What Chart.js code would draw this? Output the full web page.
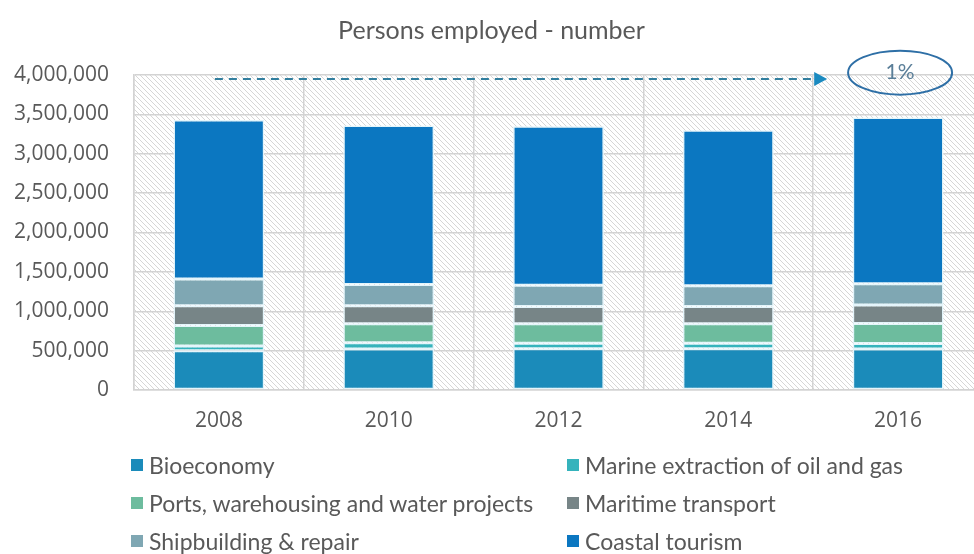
<!DOCTYPE html>
<html>
<head>
<meta charset="utf-8">
<script src="https://cdn.jsdelivr.net/npm/chart.js@4/dist/chart.umd.min.js"></script>
<style>
  html, body { margin: 0; padding: 0; background: #fff; overflow: hidden; }
  #wrap { position: relative; width: 974px; height: 554px; overflow: hidden; }
  #cv { position: absolute; left: 0; top: 0; }
  .lg { position: absolute; font-family: Lato, "Open Sans", sans-serif; font-size: 23px; color: #595959; white-space: nowrap; line-height: 26px; }
  .sw { position: absolute; width: 12px; height: 12px; }
</style>
</head>
<body>
<div id="wrap">
  <canvas id="cv" width="998" height="554" style="width:998px;height:554px"></canvas>
  <div id="legend"></div>
</div>
<script>
const categories = ['2008', '2010', '2012', '2014', '2016'];
const seriesNames = ['Bioeconomy', 'Marine extraction of oil and gas', 'Ports, warehousing and water projects', 'Maritime transport', 'Shipbuilding & repair', 'Coastal tourism'];
const bioeconomy   = [500000, 520000, 525000, 525000, 520000];
const marineOilGas = [60000, 80000, 70000, 70000, 70000];
const ports        = [260000, 240000, 245000, 245000, 255000];
const maritime     = [250000, 230000, 220000, 220000, 235000];
const shipbuilding = [340000, 270000, 270000, 265000, 270000];
const tourism      = [2020000, 2020000, 2020000, 1975000, 2110000];
const yTicks = [0, 500000, 1000000, 1500000, 2000000, 2500000, 3000000, 3500000, 4000000];
const changeLabel = '1%';
const colors = ['#1B8BBA', '#35B3BC', '#6DBC9E', '#778587', '#7FA7B3', '#0B77C1'];
const seriesValues = [bioeconomy, marineOilGas, ports, maritime, shipbuilding, tourism];

const TXT = '#595959';

function makeHatch() {
  const c = document.createElement('canvas');
  c.width = 5; c.height = 5;
  const g = c.getContext('2d');
  g.fillStyle = '#ffffff'; g.fillRect(0, 0, 5, 5);
  g.strokeStyle = '#d6d6d6'; g.lineWidth = 1;
  g.beginPath();
  g.moveTo(-1, -1); g.lineTo(6, 6);
  g.moveTo(-1, 4); g.lineTo(1, 6);
  g.moveTo(4, -1); g.lineTo(6, 1);
  g.stroke();
  return c;
}

const hatchPlugin = {
  id: 'hatch',
  beforeDraw(chart) {
    const { ctx, chartArea: a } = chart;
    ctx.save();
    ctx.fillStyle = ctx.createPattern(makeHatch(), 'repeat');
    ctx.fillRect(a.left, a.top, a.right - a.left, a.bottom - a.top);
    ctx.restore();
  }
};

const annotPlugin = {
  id: 'annot',
  afterDraw(chart) {
    const { ctx } = chart;
    const xs = chart.scales.x, ys = chart.scales.y;
    const y = ys.getPixelForValue(3950000);
    const x0 = xs.getPixelForValue(0) - 4;
    const x1 = (xs.getPixelForValue(3) + xs.getPixelForValue(4)) / 2 + 14;
    ctx.save();
    ctx.strokeStyle = '#327F9F';
    ctx.lineWidth = 2;
    ctx.setLineDash([8, 6]);
    ctx.beginPath(); ctx.moveTo(x0, y); ctx.lineTo(x1 - 10, y); ctx.stroke();
    ctx.setLineDash([]);
    ctx.fillStyle = '#1A8AC0';
    ctx.beginPath(); ctx.moveTo(x1, y); ctx.lineTo(x1 - 13, y - 7); ctx.lineTo(x1 - 13, y + 7); ctx.closePath(); ctx.fill();
    const cx = xs.getPixelForValue(4) + 2;
    const cy = ys.getPixelForValue(4030000);
    ctx.strokeStyle = '#2E6FA6';
    ctx.lineWidth = 2;
    ctx.beginPath(); ctx.ellipse(cx, cy, 52, 22, 0, 0, Math.PI * 2); ctx.stroke();
    ctx.fillStyle = '#5A7E98';
    ctx.font = '21px Lato, "Open Sans", sans-serif';
    ctx.textAlign = 'center'; ctx.textBaseline = 'middle';
    ctx.fillText(changeLabel, cx, cy);
    ctx.restore();
  }
};

const datasets = seriesNames.map((n, i) => ({
  label: n,
  data: seriesValues[i],
  backgroundColor: colors[i],
  borderColor: '#E4F5FB',
  borderWidth: 1.5,
  borderSkipped: false,
  categoryPercentage: 1,
  barPercentage: 0.535
}));

const chart = new Chart(document.getElementById('cv'), {
  type: 'bar',
  data: { labels: categories, datasets },
  options: {
    responsive: false,
    animation: false,
    devicePixelRatio: 1,
    layout: { padding: { left: 0, right: 15, top: 0, bottom: 114 } },
    plugins: {
      legend: { display: false },
      tooltip: { enabled: false },
      title: {
        display: true,
        text: 'Persons employed - number',
        color: TXT,
        font: { family: 'Lato, "Open Sans", sans-serif', size: 25, weight: 'normal' },
        padding: { top: 16, bottom: 29 }
      }
    },
    scales: {
      x: {
        stacked: true,
        grid: { color: '#d3d3d3', lineWidth: 1.5, offset: true, drawTicks: false },
        border: { color: '#d3d3d3', width: 1.5 },
        ticks: { color: TXT, font: { family: '"Open Sans", sans-serif', size: 21 }, padding: 18 },
        afterFit(s) { s.height = 50; }
      },
      y: {
        stacked: true,
        min: 0, max: 4000000,
        afterBuildTicks(s) { s.ticks = yTicks.map(v => ({ value: v })); },
        grid: { color: '#d3d3d3', lineWidth: 1.5, drawTicks: false },
        border: { color: '#d3d3d3', width: 1.5 },
        ticks: {
          color: TXT,
          font: { family: '"Open Sans", sans-serif', size: 21 },
          padding: 25,
          callback: v => v.toLocaleString('en-US')
        },
        afterFit(s) { s.width = 134; }
      }
    }
  },
  plugins: [hatchPlugin, annotPlugin]
});

// HTML legend built from datasets (two columns)
const lg = document.getElementById('legend');
const colX = [131, 567];
const rowY = [465, 503, 541];
chart.data.datasets.forEach((d, i) => {
  const col = i % 2, row = Math.floor(i / 2);
  const sw = document.createElement('div');
  sw.className = 'sw';
  sw.style.background = d.backgroundColor;
  sw.style.left = colX[col] + 'px';
  sw.style.top = (rowY[row] - 6) + 'px';
  lg.appendChild(sw);
  const t = document.createElement('div');
  t.className = 'lg';
  t.textContent = d.label;
  t.style.left = (colX[col] + 18) + 'px';
  t.style.top = (rowY[row] - 13) + 'px';
  lg.appendChild(t);
});
</script>
</body>
</html>
